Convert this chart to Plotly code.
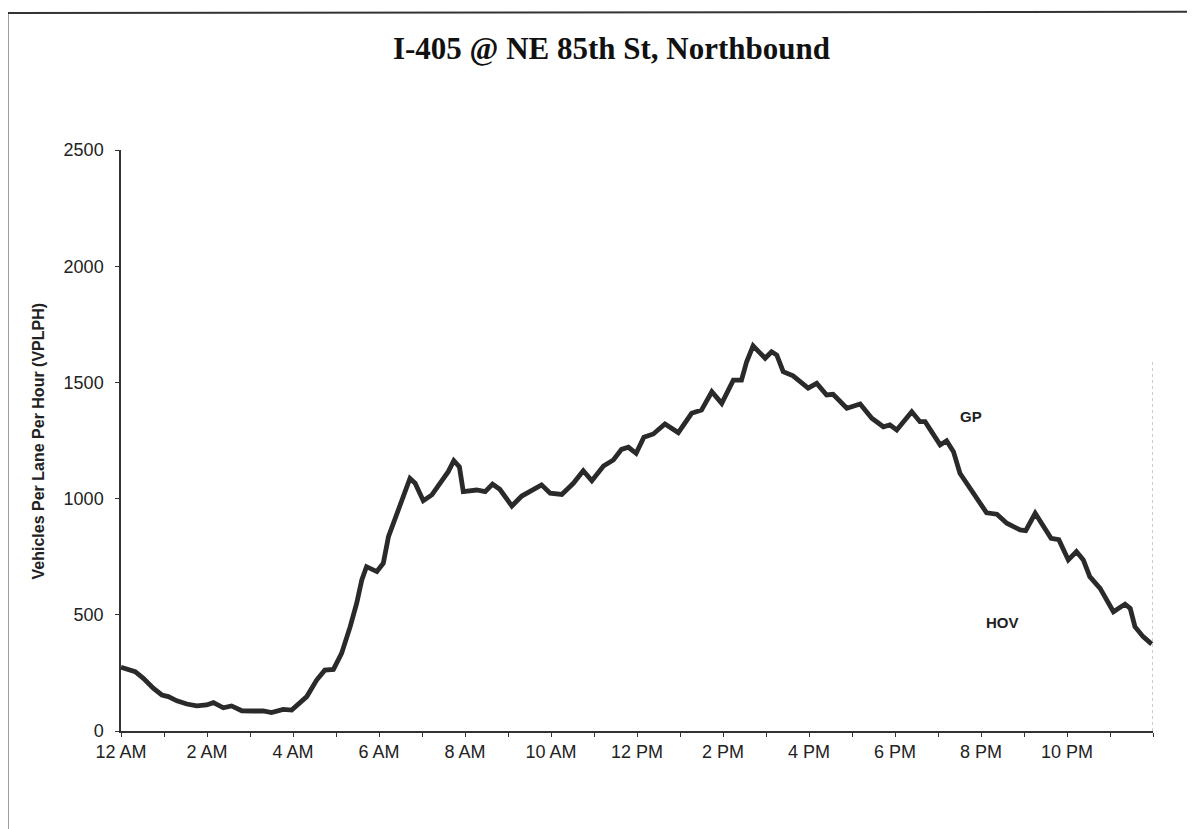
import plotly.graph_objects as go

# GP lane volume (hours after midnight, VPLPH)
time_hours = [
    0.00, 0.33, 0.52, 0.75, 0.95, 1.10, 1.30, 1.53, 1.76, 1.99,
    2.15, 2.38, 2.57, 2.81, 3.08, 3.31, 3.50, 3.77, 3.97, 4.16,
    4.32, 4.55, 4.74, 4.94, 5.13, 5.33, 5.48, 5.60, 5.71, 5.95,
    6.10, 6.22, 6.33, 6.49, 6.72, 6.84, 7.03, 7.23, 7.34, 7.50,
    7.61, 7.74, 7.87, 7.96, 8.27, 8.47, 8.64, 8.81, 9.09, 9.32,
    9.55, 9.78, 9.98, 10.25, 10.52, 10.75, 10.95, 11.22, 11.45, 11.64,
    11.80, 11.98, 12.16, 12.38, 12.65, 12.96, 13.27, 13.50, 13.74, 13.97,
    14.24, 14.43, 14.55, 14.70, 14.98, 15.13, 15.25, 15.40, 15.63, 15.98,
    16.18, 16.41, 16.56, 16.88, 17.19, 17.46, 17.73, 17.88, 18.04, 18.27,
    18.39, 18.58, 18.70, 18.85, 19.05, 19.20, 19.36, 19.51, 19.74, 19.98,
    20.13, 20.37, 20.60, 20.91, 21.04, 21.26, 21.42, 21.63, 21.81, 22.03,
    22.22, 22.38, 22.53, 22.77, 23.08, 23.35, 23.47, 23.58, 23.77, 23.97,
]
gp_vplph = [
    274, 255, 227, 184, 155, 148, 130, 116, 108, 112,
    122, 100, 108, 87, 86, 86, 79, 93, 90, 119,
    148, 219, 262, 265, 334, 449, 549, 650, 707, 686,
    722, 836, 894, 965, 1087, 1066, 991, 1016, 1044, 1080,
    1116, 1163, 1137, 1030, 1037, 1030, 1062, 1040, 968, 1011,
    1037, 1059, 1023, 1018, 1066, 1120, 1077, 1140, 1166, 1212,
    1221, 1195, 1264, 1278, 1321, 1284, 1367, 1381, 1460, 1410,
    1510, 1510, 1589, 1657, 1604, 1632, 1618, 1546, 1528, 1475,
    1496, 1446, 1449, 1389, 1407, 1346, 1309, 1317, 1295, 1352,
    1374, 1331, 1331, 1288, 1231, 1249, 1202, 1109, 1044, 980,
    939, 933, 894, 865, 862, 937, 890, 829, 823, 736,
    772, 736, 664, 614, 513, 546, 528, 449, 406, 374,
]

tick_hours = list(range(0, 25))
tick_labels = [
    "12 AM", "", "2 AM", "", "4 AM", "", "6 AM", "", "8 AM", "",
    "10 AM", "", "12 PM", "", "2 PM", "", "4 PM", "", "6 PM", "",
    "8 PM", "", "10 PM", "", "",
]
y_ticks = [0, 500, 1000, 1500, 2000, 2500]

fig = go.Figure()
fig.add_trace(go.Scatter(
    x=time_hours, y=gp_vplph, mode="lines",
    line=dict(color="#2a2a2a", width=4.8),
    showlegend=False,
))

# faint dashed right edge of the plot area, as on the scan
fig.add_shape(type="line", xref="x", yref="y", x0=24, x1=24, y0=0, y1=1590,
              line=dict(color="#9a9a9a", width=1, dash="dot"))
# page border lines (top and left) from the scanned sheet
fig.add_shape(type="line", xref="paper", yref="paper", x0=-0.11, x1=1.06,
              y0=1.236, y1=1.238, line=dict(color="#333", width=2))
fig.add_shape(type="line", xref="paper", yref="paper", x0=-0.11, x1=-0.11,
              y0=-0.2, y1=1.236, line=dict(color="#333", width=2))

fig.add_annotation(text="<b>GP</b>", x=19.77, y=1355, showarrow=False,
                   font=dict(family="Arial, Liberation Sans", size=15, color="#222"))
fig.add_annotation(text="<b>HOV</b>", x=20.49, y=465, showarrow=False,
                   font=dict(family="Arial, Liberation Sans", size=15, color="#222"))
fig.add_annotation(text="<b>Vehicles Per Lane Per Hour (VPLPH)</b>",
                   xref="paper", yref="paper", x=-0.0795, y=0.5, textangle=-90,
                   xanchor="center", yanchor="middle", showarrow=False,
                   font=dict(family="Arial, Liberation Sans", size=16, color="#222"))

fig.update_layout(
    title=dict(text="<b>I-405 @ NE 85th St, Northbound</b>", x=0.505, xanchor="center",
               y=0.952, yanchor="middle",
               font=dict(family="Times New Roman, Liberation Serif", size=31, color="#111")),
    width=1195, height=829,
    margin=dict(l=113, r=50, t=142, b=106),
    paper_bgcolor="white", plot_bgcolor="white",
    font=dict(family="Arial, Liberation Sans", size=18, color="#222"),
)
fig.update_xaxes(
    range=[0, 24], tickmode="array", tickvals=tick_hours, ticktext=tick_labels,
    showgrid=False, zeroline=False, showline=True, linecolor="#333", linewidth=1.5,
    ticks="outside", ticklen=4, tickcolor="#333",
)
fig.update_yaxes(
    range=[0, 2500], tickmode="array", tickvals=y_ticks,
    showgrid=False, zeroline=False, showline=True, linecolor="#333", linewidth=1.5,
    ticks="outside", ticklen=4, tickcolor="#333", ticklabelstandoff=8,
)

fig.write_html("out.html")
